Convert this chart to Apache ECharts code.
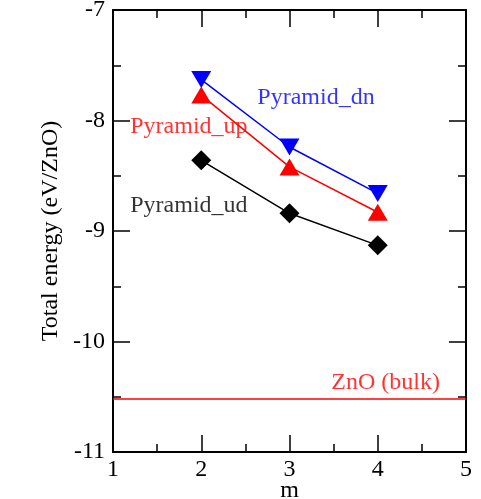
<!DOCTYPE html>
<html><head><meta charset="utf-8">
<script src="https://cdn.jsdelivr.net/npm/echarts@6/dist/echarts.min.js"></script>
<style>html,body{margin:0;padding:0;background:#fff}#c{width:481px;height:499px}</style>
</head><body><div id="c"></div>
<script>
const mValues = [2, 3, 4];
const pyramidDn = [-7.63, -8.24, -8.66];
const pyramidUp = [-7.77, -8.42, -8.83];
const pyramidUd = [-8.36, -8.84, -9.13];
const znoBulk = -10.52;
const xRange = [1, 5];
const yRange = [-11, -7];

const FONT = '"Liberation Serif", "Times New Roman", serif';
const FS = 24;
const chart = echarts.init(document.getElementById('c'), null, {renderer: 'canvas'});

function pairs(xs, ys) { return xs.map((x, i) => [x, ys[i]]); }

const axisCommon = {
  axisLine: {show: true, onZero: false, lineStyle: {color: '#000', width: 2}},
  axisTick: {show: true, inside: true, length: 17, lineStyle: {color: '#000', width: 1.5}},
  minorTick: {show: true, splitNumber: 2, length: 8, lineStyle: {color: '#000', width: 1.5}},
  splitLine: {show: false}
};

const labelStyle = {fontFamily: FONT, fontSize: FS, color: '#000'};

function annot(text, x, y, color) {
  return {
    type: 'scatter', symbolSize: 0, silent: true, z: 5,
    data: [[x, y]],
    label: {show: true, position: 'inside', formatter: text, fontFamily: FONT, fontSize: FS, color: color}
  };
}

chart.setOption({
  animation: false,
  backgroundColor: '#fff',
  grid: {left: 113, right: 15, top: 10, bottom: 47, containLabel: false, outerBoundsMode: 'none'},
  xAxis: [
    Object.assign({type: 'value', min: xRange[0], max: xRange[1], interval: 1, position: 'bottom',
      name: 'm', nameLocation: 'middle', nameGap: 27, nameMoveOverlap: false, nameTextStyle: labelStyle,
      axisLabel: Object.assign({margin: 6}, labelStyle)}, axisCommon),
    Object.assign({type: 'value', min: xRange[0], max: xRange[1], interval: 1, position: 'top',
      axisLabel: {show: false}}, axisCommon)
  ],
  yAxis: [
    Object.assign({type: 'value', min: yRange[0], max: yRange[1], interval: 1, position: 'left',
      name: 'Total energy (eV/ZnO)', nameLocation: 'middle', nameGap: 50, nameMoveOverlap: false, nameRotate: 90, nameTextStyle: labelStyle,
      axisLabel: Object.assign({margin: 8}, labelStyle)}, axisCommon),
    Object.assign({type: 'value', min: yRange[0], max: yRange[1], interval: 1, position: 'right',
      axisLabel: {show: false}}, axisCommon)
  ],
  series: [
    {type: 'line', data: [[xRange[0], znoBulk], [xRange[1], znoBulk]], symbol: 'none',
      lineStyle: {color: '#ff0000', width: 1.5}, z: 1},
    {type: 'line', data: pairs(mValues, pyramidUd), symbol: 'diamond', symbolSize: [20, 20],
      itemStyle: {color: '#000'}, lineStyle: {color: '#000', width: 1.5}, z: 2},
    {type: 'line', data: pairs(mValues, pyramidUp), symbol: 'triangle', symbolSize: [20, 17],
      itemStyle: {color: '#ff0000'}, lineStyle: {color: '#ff0000', width: 1.5}, z: 3},
    {type: 'line', data: pairs(mValues, pyramidDn), symbol: 'triangle', symbolRotate: 180, symbolSize: [20, 17],
      itemStyle: {color: '#0000ff'}, lineStyle: {color: '#0000ff', width: 1.5}, z: 4},
    annot('Pyramid_dn', 3.30, -7.79, '#0000ff'),
    annot('Pyramid_up', 1.86, -8.06, '#ff0000'),
    annot('Pyramid_ud', 1.86, -8.77, '#000'),
    annot('ZnO (bulk)', 4.09, -10.37, '#ff0000')
  ]
});
</script></body></html>
